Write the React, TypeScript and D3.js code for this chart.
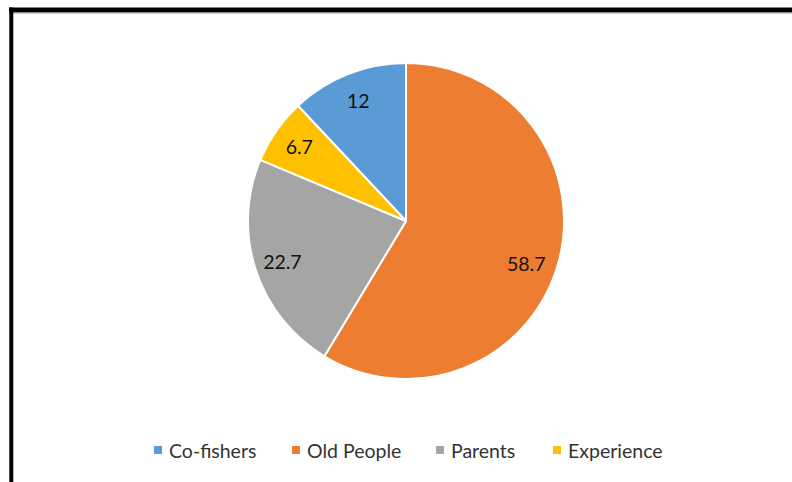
import React from "react";
import * as d3 from "d3";

const categories = ["Co-fishers", "Old People", "Parents", "Experience"];
const values = [12, 58.7, 22.7, 6.7];
const colors = ["#5B9BD5", "#ED7D31", "#A5A5A5", "#FFC000"];

const W = 792;
const H = 482;
const CX = 406;
const CY = 221;
const R = 158;
const LABEL_R = 130;
const legendX = [154, 292, 436, 553];
// best-fit style nudges for data labels (layout only)
const labelNudge: [number, number][] = [[0, 0], [-5, 8], [0, 0], [0, 0]];

export default function App() {
  const total = d3.sum(values);
  const start = -(values[0] / total) * 2 * Math.PI;
  const pie = d3
    .pie<number>()
    .sort(null)
    .value((d) => d)
    .startAngle(start)
    .endAngle(start + 2 * Math.PI);
  const arcs = pie(values);
  const arc = d3.arc<d3.PieArcDatum<number>>().innerRadius(0).outerRadius(R);
  const labelArc = d3
    .arc<d3.PieArcDatum<number>>()
    .innerRadius(LABEL_R)
    .outerRadius(LABEL_R);

  return (
    <svg
      width={W}
      height={H}
      style={{ position: "absolute", left: 0, top: 0, background: "#fff" }}
      fontFamily="Lato, 'Open Sans', sans-serif"
    >
      <rect x={0} y={0} width={W} height={H} fill="#fff" />
      {/* frame */}
      <line x1={9} y1={10} x2={W} y2={10} stroke="#000" strokeWidth={5} />
      <line x1={9} y1={13} x2={W} y2={13} stroke="#9a9a9a" strokeWidth={1} />
      <line x1={11.3} y1={7.5} x2={11.3} y2={H} stroke="#000" strokeWidth={4} />
      <g transform={`translate(${CX},${CY})`}>
        {arcs.map((a, i) => (
          <path
            key={categories[i]}
            d={arc(a) || ""}
            fill={colors[i]}
            stroke="#fff"
            strokeWidth={2}
            strokeLinejoin="round"
          />
        ))}
        {arcs.map((a, i) => {
          const [x, y] = labelArc.centroid(a);
          return (
            <text
              key={"l" + i}
              x={x + labelNudge[i][0]}
              y={y + labelNudge[i][1]}
              textAnchor="middle"
              dominantBaseline="central"
              fontSize={19.5}
              fill="#111"
            >
              {values[i]}
            </text>
          );
        })}
      </g>
      <g>
        {categories.map((c, i) => (
          <g key={"lg" + c} transform={`translate(${legendX[i]},446)`}>
            <rect x={0} y={0} width={8} height={8} fill={colors[i]} />
            <text x={15} y={11.5} fontSize={19.5} fill="#333">
              {c}
            </text>
          </g>
        ))}
      </g>
    </svg>
  );
}
